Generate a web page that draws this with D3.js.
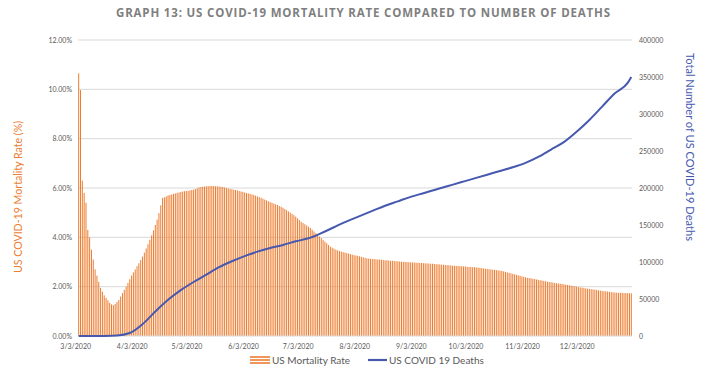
<!DOCTYPE html>
<html>
<head>
<meta charset="utf-8">
<script src="https://cdn.jsdelivr.net/npm/d3@7"></script>
<style>
  body { margin: 0; background: #fff; }
  svg { display: block; }
</style>
</head>
<body>
<svg width="714" height="373"></svg>
<script>
// daily mortality rate (%), 3/3/2020 .. 12/31/2020
var rates = [
  10.65, 9.97, 6.3, 5.8, 5.4, 4.3, 4.0, 3.5, 3.1, 2.7,
  2.45, 2.2, 1.95, 1.8, 1.65, 1.55, 1.45, 1.35, 1.28, 1.25,
  1.3, 1.38, 1.46, 1.6, 1.74, 1.87, 2.0, 2.15, 2.3, 2.45,
  2.58, 2.7, 2.83, 2.95, 3.08, 3.22, 3.38, 3.55, 3.72, 3.9,
  4.08, 4.28, 4.5, 4.72, 4.98, 5.3, 5.6, 5.62, 5.66, 5.7,
  5.72, 5.74, 5.76, 5.78, 5.8, 5.82, 5.84, 5.86, 5.87, 5.88,
  5.88, 5.9, 5.92, 5.93, 5.96, 5.99, 6.02, 6.04, 6.05, 6.06,
  6.07, 6.07, 6.08, 6.08, 6.08, 6.07, 6.07, 6.06, 6.05, 6.04,
  6.02, 6.0, 5.98, 5.96, 5.95, 5.93, 5.92, 5.9, 5.88, 5.86,
  5.84, 5.82, 5.8, 5.78, 5.76, 5.74, 5.72, 5.69, 5.66, 5.63,
  5.6, 5.57, 5.53, 5.5, 5.46, 5.43, 5.4, 5.37, 5.34, 5.31,
  5.27, 5.24, 5.2, 5.15, 5.1, 5.05, 5.0, 4.95, 4.9, 4.84,
  4.77, 4.7, 4.63, 4.58, 4.53, 4.48, 4.43, 4.38, 4.31, 4.24,
  4.17, 4.1, 4.03, 3.97, 3.9, 3.83, 3.76, 3.69, 3.62, 3.58,
  3.54, 3.5, 3.47, 3.44, 3.42, 3.4, 3.38, 3.36, 3.34, 3.32,
  3.3, 3.28, 3.26, 3.25, 3.23, 3.21, 3.19, 3.17, 3.15, 3.14,
  3.13, 3.12, 3.12, 3.11, 3.1, 3.1, 3.09, 3.08, 3.07, 3.07,
  3.06, 3.05, 3.05, 3.04, 3.03, 3.03, 3.02, 3.01,
  3.01, 3.0, 3.0, 2.99, 2.99, 2.98, 2.98, 2.97, 2.97, 2.96,
  2.96, 2.95, 2.95, 2.94, 2.94, 2.93, 2.93, 2.92,
  2.91, 2.91, 2.9, 2.89, 2.89, 2.88, 2.87, 2.87, 2.86, 2.85,
  2.85, 2.84, 2.84, 2.83, 2.83, 2.82, 2.82, 2.81,
  2.8, 2.8, 2.79, 2.79, 2.78, 2.77, 2.76, 2.75, 2.74, 2.73,
  2.72, 2.71, 2.7, 2.69, 2.68, 2.67, 2.66, 2.65, 2.64,
  2.62, 2.6, 2.58, 2.56, 2.54, 2.52, 2.5, 2.48, 2.46, 2.44,
  2.42, 2.4, 2.38, 2.36, 2.35, 2.34,
  2.32, 2.31, 2.29, 2.28, 2.26, 2.25, 2.23, 2.22, 2.2,
  2.19, 2.18, 2.17, 2.15, 2.14, 2.13, 2.12, 2.11, 2.1, 2.08, 2.07,
  2.06, 2.04, 2.03, 2.01, 2.0, 1.98, 1.97,
  1.96, 1.95, 1.93, 1.92, 1.91, 1.9, 1.89, 1.88, 1.87, 1.85, 1.84,
  1.83, 1.82, 1.81, 1.8, 1.79, 1.78, 1.77, 1.76,
  1.76, 1.75, 1.75, 1.75, 1.74, 1.74, 1.74, 1.73, 1.73
];

// cumulative deaths, read weekly
var deathDates = [
  '3/3/2020', '3/10/2020', '3/17/2020', '3/24/2020', '3/31/2020', '4/7/2020',
  '4/14/2020', '4/21/2020', '4/28/2020', '5/5/2020', '5/12/2020', '5/19/2020',
  '5/26/2020', '6/2/2020', '6/9/2020', '6/16/2020', '6/23/2020', '6/30/2020',
  '7/7/2020', '7/14/2020', '7/21/2020', '7/28/2020', '8/4/2020', '8/11/2020',
  '8/18/2020', '8/25/2020', '9/1/2020', '9/8/2020', '9/15/2020', '9/22/2020',
  '9/29/2020', '10/6/2020', '10/13/2020', '10/20/2020', '10/27/2020', '11/3/2020',
  '11/10/2020', '11/17/2020', '11/24/2020', '12/1/2020', '12/8/2020', '12/15/2020',
  '12/22/2020', '12/29/2020', '12/31/2020'
];
var deaths = [
  0, 0, 100, 600, 4000, 16000,
  33000, 49000, 62000, 73000, 83000, 93000,
  101000, 108000, 114000, 119000, 123000, 128000,
  132000, 139000, 147000, 155000, 162000, 169000,
  176000, 182000, 188000, 193000, 198000, 203000,
  208000, 213000, 218000, 223000, 228000, 234000,
  242000, 252000, 262000, 276000, 292000, 310000,
  328000, 342000, 350000
];

var tickLabels = ['3/3/2020', '4/3/2020', '5/3/2020', '6/3/2020', '7/3/2020',
  '8/3/2020', '9/3/2020', '10/3/2020', '11/3/2020', '12/3/2020'];
var rateTicks = [0, 2, 4, 6, 8, 10, 12];
var deathTicks = [0, 50000, 100000, 150000, 200000, 250000, 300000, 350000, 400000];

var parse = d3.timeParse('%m/%d/%Y');
var start = parse('3/3/2020');

var svg = d3.select('svg');
var plotL = 78, plotR = 632, plotT = 40, plotB = 336;
var orange = '#ED7D31';
var blue = '#4659AE';
var font = 'Lato, "Open Sans", sans-serif';

svg.append('rect').attr('width', 714).attr('height', 373).attr('fill', '#fff');

var x = d3.scaleBand()
    .domain(d3.range(rates.length))
    .range([plotL, plotR])
    .paddingInner(0.45)
    .paddingOuter(0.1);
var xDay = d => x(d3.timeDay.count(start, d)) + x.bandwidth() / 2;

var yRate = d3.scaleLinear().domain([0, 12]).range([plotB, plotT]);
var yDeaths = d3.scaleLinear().domain([0, 400000]).range([plotB, plotT]);

// gridlines
svg.append('g')
    .selectAll('line')
    .data(rateTicks.slice(1))
    .join('line')
    .attr('x1', plotL).attr('x2', plotR)
    .attr('y1', d => yRate(d)).attr('y2', d => yRate(d))
    .attr('stroke', '#d9d9d9').attr('stroke-width', 1);

// bars
svg.append('g')
    .selectAll('rect')
    .data(rates)
    .join('rect')
    .attr('x', (d, i) => x(i))
    .attr('width', x.bandwidth())
    .attr('y', d => yRate(d))
    .attr('height', d => yRate(0) - yRate(d))
    .attr('fill', orange);

// baseline
svg.append('line')
    .attr('x1', plotL).attr('x2', plotR)
    .attr('y1', plotB).attr('y2', plotB)
    .attr('stroke', '#d9d9d9');

// deaths line
var line = d3.line()
    .x((d, i) => xDay(parse(deathDates[i])))
    .y(d => yDeaths(d))
    .curve(d3.curveMonotoneX);

svg.append('path')
    .datum(deaths)
    .attr('d', line)
    .attr('fill', 'none')
    .attr('stroke', blue)
    .attr('stroke-width', 2)
    .attr('stroke-linejoin', 'round');

// left axis labels
var leftAxis = d3.axisLeft(yRate)
    .tickValues(rateTicks)
    .tickSize(0)
    .tickPadding(6)
    .tickFormat(d => d3.format('.2f')(d) + '%');
var gl = svg.append('g').attr('transform', `translate(${plotL},0)`).call(leftAxis);
gl.select('.domain').remove();
gl.selectAll('text').attr('font-family', font).attr('font-size', 7).attr('fill', '#595959');

// right axis labels
var rightAxis = d3.axisRight(yDeaths)
    .tickValues(deathTicks)
    .tickSize(0)
    .tickPadding(7)
    .tickFormat(d3.format('d'));
var gr = svg.append('g').attr('transform', `translate(${plotR},0)`).call(rightAxis);
gr.select('.domain').remove();
gr.selectAll('text').attr('font-family', font).attr('font-size', 7).attr('fill', '#595959');

// x axis labels
svg.append('g')
    .selectAll('text')
    .data(tickLabels)
    .join('text')
    .attr('x', d => xDay(parse(d)) - 3)
    .attr('y', plotB + 13)
    .attr('text-anchor', 'middle')
    .attr('font-family', font)
    .attr('font-size', 7)
    .attr('fill', '#595959')
    .text(d => d);

// title
svg.append('text')
    .attr('x', 363).attr('y', 17)
    .attr('text-anchor', 'middle')
    .attr('font-family', '"Open Sans", sans-serif')
    .attr('font-weight', 'bold')
    .attr('font-size', 11.5)
    .attr('fill', '#7f7f7f')
    .attr('textLength', 494)
    .attr('lengthAdjust', 'spacing')
    .text('GRAPH 13: US COVID-19 MORTALITY RATE COMPARED TO NUMBER OF DEATHS');

// axis titles
svg.append('text')
    .attr('transform', 'translate(22,197) rotate(-90)')
    .attr('text-anchor', 'middle')
    .attr('font-family', font)
    .attr('font-size', 11.5)
    .attr('fill', orange)
    .attr('textLength', 152)
    .attr('lengthAdjust', 'spacingAndGlyphs')
    .text('US COVID-19 Mortality Rate (%)');

svg.append('text')
    .attr('transform', 'translate(686,147) rotate(90)')
    .attr('text-anchor', 'middle')
    .attr('font-family', font)
    .attr('font-size', 12)
    .attr('fill', blue)
    .attr('textLength', 188)
    .attr('lengthAdjust', 'spacingAndGlyphs')
    .text('Total Number of US COVID-19 Deaths');

// legend
var lg = svg.append('g').attr('transform', 'translate(250,364)');
[-3, 0, 3].forEach(dy => {
  lg.append('line')
    .attr('x1', 0).attr('x2', 20)
    .attr('y1', dy - 4).attr('y2', dy - 4)
    .attr('stroke', orange).attr('stroke-width', 1.6);
});
lg.append('text')
    .attr('x', 22).attr('y', 0)
    .attr('font-family', font).attr('font-size', 10).attr('fill', '#595959')
    .text('US Mortality Rate');
lg.append('line')
    .attr('x1', 118).attr('x2', 137)
    .attr('y1', -4).attr('y2', -4)
    .attr('stroke', blue).attr('stroke-width', 2.2);
lg.append('text')
    .attr('x', 139).attr('y', 0)
    .attr('font-family', font).attr('font-size', 10).attr('fill', '#595959')
    .text('US COVID 19 Deaths');
</script>
</body>
</html>
